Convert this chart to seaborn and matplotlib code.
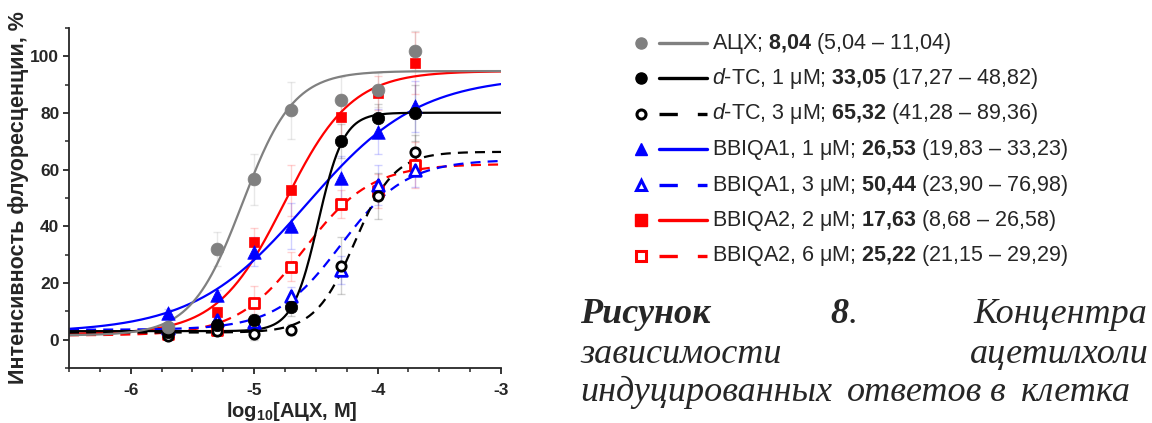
import numpy as np
import pandas as pd
import matplotlib
matplotlib.use("Agg")
import matplotlib.pyplot as plt
import seaborn as sns
from matplotlib.ticker import MultipleLocator

# log10 of acetylcholine concentration, M
log_conc = [-5.7, -5.3, -5.0, -4.7, -4.3, -4.0, -3.7]

# mean responses, %
ach = [4.3, 31.9, 56.6, 80.9, 84.7, 88.0, 102.0]
dtc1 = [2.6, 5.2, 7.0, 11.4, 70.2, 78.3, 80.0]
dtc3 = [1.2, 3.2, 2.0, 3.5, 26.1, 50.7, 66.2]
bbiqa1_1 = [9.4, 15.7, 31.1, 40.1, 56.9, 73.4, 82.4]
bbiqa1_3 = [4.0, 7.0, 6.3, 15.5, 24.6, 54.7, 60.0]
bbiqa2_2 = [2.5, 9.6, 34.5, 52.8, 78.5, 87.1, 97.7]
bbiqa2_6 = [2.0, 3.5, 12.8, 25.8, 47.9, 52.5, 61.6]

# error bars, %
ach_err = [1.0, 6.0, 9.0, 10.0, 8.0, 6.0, 7.0]
dtc1_err = [1.0, 2.0, 2.0, 3.0, 6.0, 5.0, 10.0]
dtc3_err = [1.0, 1.0, 2.0, 2.0, 10.0, 8.0, 6.0]
bbiqa1_1_err = [1.5, 2.0, 5.0, 8.0, 8.0, 8.0, 9.0]
bbiqa1_3_err = [1.0, 2.0, 2.0, 3.0, 5.0, 7.0, 6.0]
bbiqa2_2_err = [1.0, 2.0, 5.0, 9.0, 8.0, 6.0, 11.0]
bbiqa2_6_err = [1.0, 1.0, 6.0, 5.0, 5.0, 6.0, 8.0]

# Hill fit parameters
fit_bottom = [1.5, 3.0, 2.5, 2.5, 3.5, 2.0, 1.5]
fit_top = [94.8, 80.1, 66.3, 93.0, 63.5, 94.8, 62.0]
fit_logec50 = [-5.095, -4.481, -4.185, -4.576, -4.297, -4.754, -4.598]
fit_slope = [2.1, 4.2, 2.7, 0.95, 1.65, 1.6, 1.6]

labels = [
    "АЦХ; $\\mathbf{8{,}04}$ (5,04 – 11,04)",
    "$\\mathit{d}$-TC, 1 μM; $\\mathbf{33{,}05}$ (17,27 – 48,82)",
    "$\\mathit{d}$-TC, 3 μM; $\\mathbf{65{,}32}$ (41,28 – 89,36)",
    "BBIQA1, 1 μM; $\\mathbf{26{,}53}$ (19,83 – 33,23)",
    "BBIQA1, 3 μM; $\\mathbf{50{,}44}$ (23,90 – 76,98)",
    "BBIQA2, 2 μM; $\\mathbf{17{,}63}$ (8,68 – 26,58)",
    "BBIQA2, 6 μM; $\\mathbf{25{,}22}$ (21,15 – 29,29)",
]

means = [ach, dtc1, dtc3, bbiqa1_1, bbiqa1_3, bbiqa2_2, bbiqa2_6]
errs = [ach_err, dtc1_err, dtc3_err, bbiqa1_1_err, bbiqa1_3_err, bbiqa2_2_err, bbiqa2_6_err]

colors = ["#808080", "black", "black", "#0000ff", "#0000ff", "#ff0000", "#ff0000"]
markers = ["o", "o", "o", "^", "^", "s", "s"]
hollow = [False, False, True, False, True, False, True]
msizes = [85, 80, 45, 95, 70, 60, 45]

sns.set_style("ticks")
plt.rcParams["font.family"] = ["Liberation Sans", "DejaVu Sans"]
plt.rcParams["axes.unicode_minus"] = False
plt.rcParams["mathtext.fontset"] = "custom"
plt.rcParams["mathtext.rm"] = "Liberation Sans"
plt.rcParams["mathtext.bf"] = "Liberation Sans:bold"
plt.rcParams["mathtext.it"] = "Liberation Sans:italic"

fig = plt.figure(figsize=(11.52, 4.23), dpi=100)
ax = fig.add_axes([69 / 1152, 1 - 368 / 423, 432 / 1152, 340 / 423])

xgrid = np.linspace(-6.5, -3.0, 400)
dash = (0, (4.5, 3.2))

# last series first, so grey and black points end up on top
order = list(range(len(means)))[::-1]
for k, i in enumerate(order):
    c = colors[i]
    ls = dash if hollow[i] else "-"
    # fitted curve
    curve = pd.DataFrame({
        "x": xgrid,
        "y": fit_bottom[i] + (fit_top[i] - fit_bottom[i])
        / (1 + 10 ** (fit_slope[i] * (fit_logec50[i] - xgrid))),
    })
    sns.lineplot(data=curve, x="x", y="y", color=c, linewidth=1.6,
                 linestyle=ls, ax=ax, zorder=2)
    # error bars
    ax.errorbar(log_conc, means[i], yerr=errs[i], fmt="none", ecolor=c,
                alpha=0.18, elinewidth=1, capsize=3, zorder=1)
    # points
    pts = pd.DataFrame({"x": log_conc, "y": means[i]})
    if hollow[i]:
        sns.scatterplot(data=pts, x="x", y="y", marker=markers[i], s=msizes[i],
                        color="white", edgecolor=c, linewidth=2, ax=ax, zorder=3 + k)
    else:
        sns.scatterplot(data=pts, x="x", y="y", marker=markers[i], s=msizes[i],
                        color=c, edgecolor=c, linewidth=0.5, ax=ax, zorder=3 + k)

ax.set_xlim(-6.5, -3)
ax.set_ylim(-10, 110)
ax.set_xticks([-6, -5, -4, -3])
ax.set_yticks([0, 20, 40, 60, 80, 100])
ax.xaxis.set_minor_locator(MultipleLocator(0.25))
ax.yaxis.set_minor_locator(MultipleLocator(10))
ax.tick_params(which="major", length=4.5, width=1.3, labelsize=12.5, direction="out")
ax.tick_params(which="minor", length=3, width=1.1, direction="out")
ax.tick_params(axis="x", pad=6)
ax.tick_params(axis="y", pad=2.5)
for lab in ax.get_xticklabels() + ax.get_yticklabels():
    lab.set_fontweight("bold")
for s in ["left", "bottom"]:
    ax.spines[s].set_linewidth(1.3)
sns.despine(ax=ax)

ax.set_xlabel("log$_{\\mathbf{10}}$[АЦХ, М]", fontsize=14.5, fontweight="bold")
ax.set_ylabel("Интенсивность флуоресценции, %", fontsize=15.5, fontweight="bold")
ax.xaxis.set_label_coords(0.515, -0.095)
ax.yaxis.set_label_coords(-0.092, 0.5)

# legend drawn in pixel coordinates of the figure
lg = fig.add_axes([0, 0, 1, 1], facecolor="none")
lg.set_xlim(0, 1152)
lg.set_ylim(423, 0)
lg.axis("off")
row_y = 43
for i in range(len(labels)):
    c = colors[i]
    if hollow[i]:
        lg.plot([641], [row_y], marker=markers[i], markersize=7.5 if markers[i] != "o" else 6.5,
                markerfacecolor="white", markeredgecolor=c, markeredgewidth=2.2, linestyle="none")
        lg.plot([659, 707], [row_y, row_y], color=c, linewidth=2.4, linestyle=(0, (5.5, 6.0)))
    else:
        lg.plot([641], [row_y], marker=markers[i], markersize=9 if markers[i] == "^" else 8,
                color=c, linestyle="none")
        lg.plot([659, 707], [row_y, row_y], color=c, linewidth=2.4)
    lg.text(712, row_y, labels[i], fontsize=15.5, va="center", ha="left")
    row_y += 35.5

# caption fragment on the right (justified words, cut at the right edge)
cap = dict(family="Liberation Serif", style="italic", fontsize=26, va="baseline", ha="left")
lg.text(580, 323, "Рисунок", fontweight="bold", **cap)
lg.text(830, 323, "8", fontweight="bold", **cap)
lg.text(849, 323, ".", **cap)
lg.text(973, 323, "Концентра", **cap)
lg.text(580, 363, "зависимости", **cap)
lg.text(970, 363, "ацетилхоли", **cap)
lg.text(580, 401, "индуцированных", **cap)
lg.text(847, 401, "ответов", **cap)
lg.text(990, 401, "в", **cap)
lg.text(1021, 401, "клетка", **cap)

fig.savefig("out.png", dpi=100)
